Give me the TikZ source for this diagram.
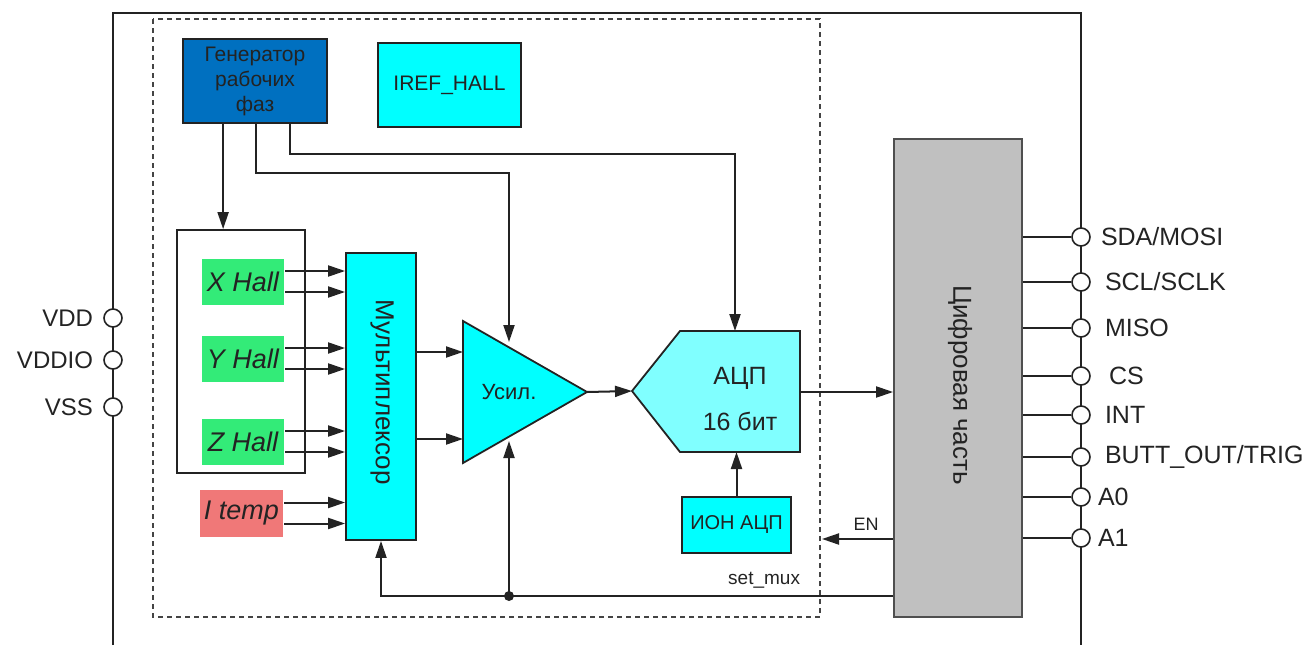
\documentclass[tikz,border=0pt]{standalone}
\usepackage{fontspec}
\setmainfont{Liberation Sans}
\usetikzlibrary{arrows.meta,calc}
\definecolor{genblue}{RGB}{0,112,192}
\definecolor{cyanbox}{RGB}{0,255,255}
\definecolor{adccol}{RGB}{128,255,255}
\definecolor{hallgreen}{RGB}{51,235,120}
\definecolor{tempred}{RGB}{240,120,120}
\definecolor{diggray}{RGB}{192,192,192}
\definecolor{ink}{RGB}{35,35,35}
\newcommand\fsz[2]{\fontsize{#1}{#2}\selectfont}
\begin{document}
\begin{tikzpicture}[x=1pt,y=-1pt,line width=2pt,
  every node/.style={text=ink},
  box/.style={draw=ink,line width=1.8pt,inner sep=0pt},
  flat/.style={inner sep=0pt},
  arr/.style={draw=ink,-{Triangle[length=17pt,width=11pt]}},
  wire/.style={draw=ink},
  pinc/.style={circle,draw=ink,fill=white,line width=1.6pt,minimum size=18pt,inner sep=0pt},
  pinlbl/.style={inner sep=0pt,font=\fsz{25}{30}},
  dashbox/.style={draw=ink!85,line width=1.5pt,dash pattern=on 5pt off 4pt}]
\useasboundingbox (0,0) rectangle (1314,645);

% outer frame
\draw[wire] (113,645) -- (113,13) -- (1081,13) -- (1081,645);
% dashed analog area
\draw[dashbox] (153,19) rectangle (820,617);

% blocks
\node[box,fill=genblue,minimum width=144,minimum height=84,align=center,font=\fsz{21}{25}] (gen) at (255,81) {Генератор\\рабочих\\фаз};
\node[box,fill=cyanbox,minimum width=143,minimum height=84,font=\fsz{21}{25}] (iref) at (449.5,85) {IREF\_HALL};
\node[box,fill=white,minimum width=128,minimum height=243] (grp) at (241,351.5) {};
\node[flat,fill=hallgreen,minimum width=82,minimum height=46,font=\fsz{27}{30}\itshape] (xh) at (243,281.5) {X Hall};
\node[flat,fill=hallgreen,minimum width=82,minimum height=46,font=\fsz{27}{30}\itshape] (yh) at (243,358.5) {Y Hall};
\node[flat,fill=hallgreen,minimum width=82,minimum height=46,font=\fsz{27}{30}\itshape] (zh) at (243,441.5) {Z Hall};
\node[flat,fill=tempred,minimum width=83,minimum height=47,font=\fsz{27}{30}\itshape] (it) at (241.5,513) {I temp};
\node[box,fill=cyanbox,minimum width=70,minimum height=287] (mux) at (381,396.5) {};
\node[rotate=-90,inner sep=0pt,font=\fsz{26}{30}] (muxt) at (382,392) {Мультиплексор};
\node[box,fill=cyanbox,minimum width=109,minimum height=56,font=\fsz{20}{24}] (ion) at (736.5,525) {ИОН АЦП};
\node[box,fill=diggray,draw=ink!80,minimum width=128,minimum height=478] (dig) at (958,378) {};
\node[rotate=-90,inner sep=0pt,font=\fsz{26}{30}] (digt) at (960,385) {Цифровая часть};

% amplifier triangle
\coordinate (ampA) at (463,321);
\coordinate (ampB) at (463,463);
\coordinate (ampT) at (587,392);
\draw[box,fill=cyanbox] (ampA) -- (ampT) -- (ampB) -- cycle;
\node[inner sep=0pt,font=\fsz{22}{26}] (ampt) at (509,392) {Усил.};
\coordinate (ampTop) at (509,342);
\coordinate (ampBot) at (509,441);

% ADC pentagon
\coordinate (adcL) at (632,391);
\coordinate (adcTL) at (680,331);
\coordinate (adcTR) at (800,331);
\coordinate (adcBR) at (800,452);
\coordinate (adcBL) at (680,452);
\draw[box,fill=adccol] (adcL) -- (adcTL) -- (adcTR) -- (adcBR) -- (adcBL) -- cycle;
\node[inner sep=0pt,font=\fsz{25}{30}] (adct1) at (740,378) {АЦП};
\node[inner sep=0pt,font=\fsz{25}{30}] (adct2) at (740,421) {16 бит};
\coordinate (adcTop) at (735,331);
\coordinate (adcBot) at (736.5,452);
\coordinate (adcR) at (800,392);

% generator outputs
\coordinate (g1) at ([xshift=41pt]gen.south west);
\coordinate (g2) at ([xshift=74pt]gen.south west);
\coordinate (g3) at ([xshift=108pt]gen.south west);
\draw[arr] (g1) -- (g1 |- grp.north);
\draw[arr] (g2) -- ++(0,49) -| (ampTop);
\draw[arr] (g3) -- ++(0,30) -| (adcTop);

% sensor outputs to multiplexer
\foreach \n in {xh,yh,zh,it}{
  \draw[arr] ([yshift=10.5pt]\n.east) -- ([yshift=10.5pt]\n.east -| mux.west);
  \draw[arr] ([yshift=-10.5pt]\n.east) -- ([yshift=-10.5pt]\n.east -| mux.west);
}

% multiplexer to amplifier
\coordinate (m1) at ([yshift=44.5pt]mux.east);
\coordinate (m2) at ([yshift=-42.5pt]mux.east);
\draw[arr] (m1) -- (m1 -| ampA);
\draw[arr] (m2) -- (m2 -| ampA);
\draw[arr] (ampT) -- (adcL);
\draw[arr] (adcR) -- (adcR -| dig.west);
\draw[arr] (ion.north) -- (adcBot);

% control lines from digital part
\coordinate (enend) at (822,539);
\draw[arr] (enend -| dig.west) -- (enend);
\node[inner sep=0pt,anchor=south,font=\fsz{18}{22}] (enl) at (866,531) {EN};
\coordinate (sm) at (509,596);
\draw[arr] (sm -| dig.west) -| (mux.south);
\fill[ink] (sm) circle (5pt);
\draw[arr] (sm) -- (ampBot);
\node[inner sep=0pt,anchor=south east,font=\fsz{19}{22}] (sml) at (801,589) {set\_mux};

% right pins
\foreach \nm/\yy/\lx/\txt in {sda/237/1100/{SDA/MOSI},scl/282/1104/{SCL/SCLK},miso/328/1104/MISO,cs/376/1108/CS,int/415/1104/INT,butt/457/1104/{BUTT\_OUT/TRIG},az/497/1097/A0,ao/538/1097/A1}{
  \node[pinc] (\nm) at (1081,\yy) {};
  \draw[wire] (\nm -| dig.east) -- (\nm.west);
  \node[pinlbl,anchor=west] (\nm l) at (\lx,\yy) {\txt};
}

% left pins
\foreach \nm/\yy/\txt in {vdd/318/VDD,vddio/360/VDDIO,vss/407/VSS}{
  \node[pinc] (\nm) at (113,\yy) {};
  \node[pinlbl,anchor=east,font=\fsz{24}{28}] (\nm l) at (94,\yy) {\txt};
}
\end{tikzpicture}
\end{document}
